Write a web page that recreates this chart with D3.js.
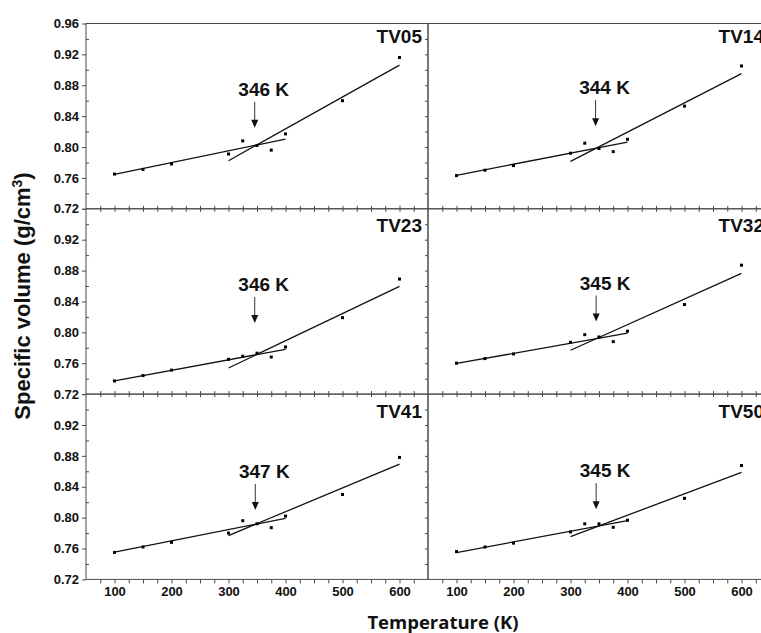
<!DOCTYPE html>
<html>
<head>
<meta charset="utf-8">
<script src="https://cdn.jsdelivr.net/npm/d3@7"></script>
<style>
  html, body { margin: 0; padding: 0; background: #fff; }
  svg { display: block; }
</style>
</head>
<body>
<svg id="chart" width="761" height="633"></svg>
<script>
// Measured temperatures (K)
const temperatures = [100, 150, 200, 300, 325, 350, 375, 400, 500, 600];

const sampleNames = ["TV05", "TV14", "TV23", "TV32", "TV41", "TV50"];

// Specific volume (g/cm³) for each sample
const volumeTV05 = [0.765, 0.771, 0.778, 0.791, 0.808, 0.802, 0.796, 0.817, 0.860, 0.916];
const volumeTV14 = [0.763, 0.770, 0.776, 0.792, 0.805, 0.798, 0.794, 0.810, 0.853, 0.905];
const volumeTV23 = [0.737, 0.744, 0.751, 0.765, 0.769, 0.773, 0.768, 0.781, 0.819, 0.869];
const volumeTV32 = [0.760, 0.766, 0.772, 0.787, 0.797, 0.794, 0.788, 0.8015, 0.836, 0.887];
const volumeTV41 = [0.755, 0.762, 0.768, 0.780, 0.796, 0.792, 0.787, 0.802, 0.830, 0.878];
const volumeTV50 = [0.756, 0.762, 0.767, 0.7815, 0.792, 0.792, 0.7875, 0.7966, 0.825, 0.8675];

// Linear fits below the transition: [temperature, volume] end points
const glassyFitTV05 = [[100, 0.7647], [400, 0.8103]];
const glassyFitTV14 = [[100, 0.7634], [400, 0.8065]];
const glassyFitTV23 = [[100, 0.7370], [400, 0.7780]];
const glassyFitTV32 = [[100, 0.7597], [400, 0.7989]];
const glassyFitTV41 = [[100, 0.7553], [400, 0.7991]];
const glassyFitTV50 = [[100, 0.7548], [400, 0.7961]];

// Linear fits above the transition
const rubberyFitTV05 = [[300, 0.7823], [600, 0.9060]];
const rubberyFitTV14 = [[300, 0.7814], [600, 0.8950]];
const rubberyFitTV23 = [[300, 0.7538], [600, 0.8596]];
const rubberyFitTV32 = [[300, 0.7768], [600, 0.8764]];
const rubberyFitTV41 = [[300, 0.7768], [600, 0.8693]];
const rubberyFitTV50 = [[300, 0.7755], [600, 0.8585]];

// Transition temperatures (K) and the volume where each arrow points
const transitionTemps = [346, 344, 346, 345, 347, 345];
const arrowTipVolumes = [0.825, 0.827, 0.812, 0.814, 0.810, 0.811];

// Axis ticks
const xTickLabels = [100, 200, 300, 400, 500, 600];
const yTickLabels = [0.72, 0.76, 0.80, 0.84, 0.88, 0.92, 0.96];

const volumes = [volumeTV05, volumeTV14, volumeTV23, volumeTV32, volumeTV41, volumeTV50];
const glassyFits = [glassyFitTV05, glassyFitTV14, glassyFitTV23, glassyFitTV32, glassyFitTV41, glassyFitTV50];
const rubberyFits = [rubberyFitTV05, rubberyFitTV14, rubberyFitTV23, rubberyFitTV32, rubberyFitTV41, rubberyFitTV50];

// Layout
const svg = d3.select("#chart");
const plotLeft = 86, panelW = 342;
const plotTop = 23.5, panelH = 185.3;
const xDomain = [50, 650];
const yDomain = [0.72, 0.96];
const fontMain = "Arial, 'Liberation Sans', sans-serif";
const frameColor = "#4a4a4a";

const minorX = d3.range(75, 650, 25);
const minorY = d3.range(0, 13).map(i => +(0.72 + i * 0.02).toFixed(2));
const isMajorY = v => yTickLabels.some(t => Math.abs(t - v) < 1e-6);
const fmt = d3.format(".2f");

sampleNames.forEach((name, i) => {
  const col = i % 2, row = Math.floor(i / 2);
  const x0 = plotLeft + col * panelW;
  const y0 = plotTop + row * panelH;
  const x = d3.scaleLinear().domain(xDomain).range([x0, x0 + panelW]);
  const y = d3.scaleLinear().domain(yDomain).range([y0 + panelH, y0]);
  const g = svg.append("g").attr("class", "panel");

  // Frame
  g.append("rect")
    .attr("x", x0).attr("y", y0)
    .attr("width", panelW).attr("height", panelH)
    .attr("fill", "none").attr("stroke", frameColor).attr("stroke-width", 1);

  // Left axis
  if (col === 0) {
    const ax = g.append("g").attr("transform", `translate(${x0},0)`)
      .call(d3.axisLeft(y).tickValues(minorY).tickSize(4).tickPadding(3)
        .tickFormat(d => (isMajorY(d) && !(row > 0 && d > 0.95)) ? fmt(d) : ""));
    ax.select(".domain").remove();
    ax.selectAll(".tick line")
      .attr("stroke", frameColor)
      .attr("x2", d => isMajorY(d) ? -4 : 3);
    ax.selectAll(".tick text")
      .attr("font-family", fontMain).attr("font-weight", "bold")
      .attr("font-size", 13).attr("fill", "#111");
  }

  // Right axis: inward ticks
  const axR = g.append("g").attr("transform", `translate(${x0 + panelW},0)`)
    .call(d3.axisRight(y).tickValues(minorY.slice(1, -1)).tickSize(-3).tickFormat(""));
  axR.select(".domain").remove();
  axR.selectAll(".tick line").attr("stroke", frameColor);

  // Top axis: inward ticks (not on the first row)
  if (row > 0) {
    const axT = g.append("g").attr("transform", `translate(0,${y0})`)
      .call(d3.axisTop(x).tickValues(minorX).tickSize(-3).tickFormat(""));
    axT.select(".domain").remove();
    axT.selectAll(".tick line").attr("stroke", frameColor);
  }

  // Bottom axis
  const last = row === 2;
  const axB = g.append("g").attr("transform", `translate(0,${y0 + panelH})`)
    .call(d3.axisBottom(x).tickValues(minorX).tickSize(last ? 4 : -3).tickPadding(3)
      .tickFormat(d => (last && xTickLabels.includes(d)) ? d : ""));
  axB.select(".domain").remove();
  axB.selectAll(".tick line").attr("stroke", frameColor);
  axB.selectAll(".tick text")
    .attr("font-family", fontMain).attr("font-weight", "bold")
    .attr("font-size", 13).attr("fill", "#111");

  // Fit lines
  const line = d3.line().x(d => x(d[0])).y(d => y(d[1]));
  [glassyFits[i], rubberyFits[i]].forEach(fit => {
    g.append("path").attr("d", line(fit))
      .attr("fill", "none").attr("stroke", "#111").attr("stroke-width", 1.3);
  });

  // Data points
  g.selectAll("rect.pt").data(temperatures.map((t, k) => [t, volumes[i][k]]))
    .join("rect").attr("class", "pt")
    .attr("x", d => x(d[0]) - 1.5).attr("y", d => y(d[1]) - 1.5)
    .attr("width", 3).attr("height", 3).attr("fill", "#000");

  // Transition arrow and label
  const ax_ = x(transitionTemps[i]);
  const tipY = y(arrowTipVolumes[i]);
  const startY = tipY - 26;
  g.append("line")
    .attr("x1", ax_).attr("x2", ax_)
    .attr("y1", startY).attr("y2", tipY - 6)
    .attr("stroke", "#333").attr("stroke-width", 1);
  g.append("path")
    .attr("d", `M${ax_ - 3.5},${tipY - 8} L${ax_ + 3.5},${tipY - 8} L${ax_},${tipY} Z`)
    .attr("fill", "#111");
  g.append("text")
    .attr("x", ax_ + 9).attr("y", startY - 6)
    .attr("text-anchor", "middle")
    .attr("font-family", fontMain).attr("font-weight", "bold")
    .attr("font-size", 19).attr("fill", "#111")
    .text(`${transitionTemps[i]} K`);

  // Sample name
  g.append("text")
    .attr("x", x0 + panelW - 6).attr("y", y0 + (row === 0 ? 19 : 23.5))
    .attr("text-anchor", "end")
    .attr("font-family", fontMain).attr("font-weight", "bold")
    .attr("font-size", 19).attr("fill", "#111")
    .text(name);
});

// Axis titles
svg.append("text")
  .attr("transform", `translate(30,296) rotate(-90)`)
  .attr("text-anchor", "middle")
  .attr("font-family", fontMain).attr("font-weight", "bold")
  .attr("font-size", 22).attr("fill", "#111")
  .call(t => {
    t.append("tspan").text("Specific volume (g/cm");
    t.append("tspan").attr("dy", -8).attr("font-size", 14).text("3");
    t.append("tspan").attr("dy", 8).text(")");
  });

svg.append("text")
  .attr("x", 443).attr("y", 629)
  .attr("text-anchor", "middle")
  .attr("font-family", "'Open Sans', sans-serif").attr("font-weight", "bold")
  .attr("font-size", 18.5).attr("fill", "#111")
  .text("Temperature (K)");
</script>
</body>
</html>
